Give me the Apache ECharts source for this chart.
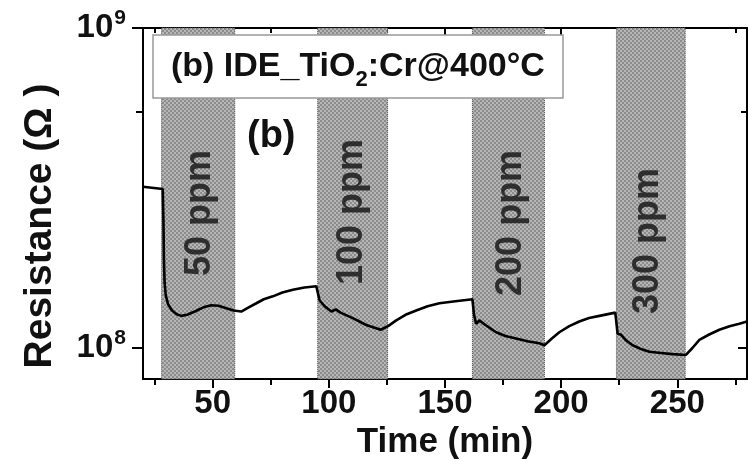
<!DOCTYPE html>
<html>
<head>
<meta charset="utf-8">
<script src="https://cdn.jsdelivr.net/npm/echarts@6/dist/echarts.min.js"></script>
<style>html,body{margin:0;padding:0;background:#fff}#c{width:748px;height:461px}</style>
</head>
<body>
<div id="c"></div>
<script>
// ---- data ----
const timeMin = [20, 28.5, 28.8, 29.0, 29.3, 29.8, 30.8, 32.5, 34.5, 36.5, 39.0, 42.3, 46.0, 49.4, 52.5, 55.9, 59.0, 62.3, 65.5, 68.8, 72.0, 75.9, 80.0, 84.5, 89.5, 94.6, 95.2, 96.0, 98.2, 101.1, 103.0, 105.0, 110.3, 116.1, 122.3, 125.5, 129.0, 133.0, 137.6, 142.5, 147.6, 154.5, 161.8, 162.5, 163.4, 164.8, 167.4, 172.0, 176.0, 180.6, 185.5, 190.6, 192.8, 196.0, 199.2, 203.5, 207.8, 212.0, 216.5, 223.3, 223.8, 224.3, 225.8, 228.0, 230.8, 234.0, 238.0, 243.0, 248.0, 253.7, 256.5, 259.5, 263.5, 268.1, 272.5, 276.7, 280];
const resistance = [3.19e8, 3.14e8, 2.5e8, 1.9e8, 1.6e8, 1.46e8, 1.37e8, 1.31e8, 1.275e8, 1.26e8, 1.27e8, 1.30e8, 1.34e8, 1.36e8, 1.355e8, 1.33e8, 1.31e8, 1.30e8, 1.34e8, 1.38e8, 1.42e8, 1.45e8, 1.49e8, 1.52e8, 1.545e8, 1.56e8, 1.57e8, 1.41e8, 1.35e8, 1.30e8, 1.32e8, 1.29e8, 1.24e8, 1.18e8, 1.14e8, 1.17e8, 1.22e8, 1.27e8, 1.31e8, 1.35e8, 1.38e8, 1.40e8, 1.42e8, 1.27e8, 1.19e8, 1.22e8, 1.18e8, 1.12e8, 1.09e8, 1.07e8, 1.05e8, 1.035e8, 1.02e8, 1.07e8, 1.12e8, 1.17e8, 1.21e8, 1.24e8, 1.26e8, 1.29e8, 1.30e8, 1.11e8, 1.10e8, 1.055e8, 1.02e8, 0.995e8, 0.973e8, 0.965e8, 0.957e8, 0.951e8, 1.0e8, 1.06e8, 1.10e8, 1.14e8, 1.17e8, 1.19e8, 1.21e8];
const bandStart = [28, 95.2, 161.8, 223.8];
const bandEnd = [59.5, 125.3, 192.8, 253.4];
const bandLabels = ['50 ppm', '100 ppm', '200 ppm', '300 ppm'];
const bandLabelTime = [44.4, 110.2, 178.6, 237.5];
const bandLabelR = [2.64e8, 2.66e8, 2.46e8, 2.16e8];
const xMajorTicks = [50, 100, 150, 200, 250];
const xMinorTicks = [25, 75, 125, 175, 225, 275];
const yMajorTicks = [1e8, 1e9];
const yMinorTicks = [5.46e8];

const FONT = '"Liberation Sans", Arial, sans-serif';

// checker pattern for the gas-exposure bands
const pc = document.createElement('canvas');
pc.width = 4; pc.height = 4;
const pctx = pc.getContext('2d');
pctx.fillStyle = '#b6b6b6'; pctx.fillRect(0, 0, 4, 4);
pctx.fillStyle = '#8c8c8c'; pctx.fillRect(0, 0, 2, 2); pctx.fillRect(2, 2, 2, 2);

const chart = echarts.init(document.getElementById('c'), null, {renderer: 'canvas'});
const lineC = {color: '#000', width: 2};
const xBase = {type: 'value', min: 20, max: 280, splitLine: {show: false}, axisLabel: {show: false}};
const yBase = {type: 'log', logBase: 10, min: 8e7, max: 1e9, splitLine: {show: false}, axisLabel: {show: false}};

chart.setOption({
  animation: false,
  backgroundColor: '#fff',
  grid: {left: 143, right: 1, top: 28, bottom: 82, outerBoundsMode: 'none', containLabel: false},
  title: {
    text: '{a|(b) IDE_TiO}{s|2}{a|:Cr@400°C}',
    left: 153, top: 38,
    padding: [8, 18, 8, 18],
    backgroundColor: '#fff',
    borderColor: '#999',
    borderWidth: 1.5,
    textStyle: {
      rich: {
        a: {fontSize: 34, fontWeight: 'bold', fontFamily: FONT, color: '#111', lineHeight: 41},
        s: {fontSize: 22, fontWeight: 'bold', fontFamily: FONT, color: '#111', lineHeight: 15, padding: [26, 0, 0, 0]}
      }
    },
    z: 10
  },
  graphic: [{
    type: 'text', left: 247, top: 118, z: 10,
    style: {text: '(b)', font: 'bold 38px ' + FONT, fill: '#111'}
  }, {
    type: 'text', x: 40, y: 226, rotation: Math.PI / 2, z: 10,
    style: {text: 'Resistance (Ω )', font: 'bold 39px ' + FONT, fill: '#111', align: 'center', verticalAlign: 'middle'}
  }],
  xAxis: [
    Object.assign({}, xBase, {
      position: 'bottom',
      axisLine: {show: true, lineStyle: lineC},
      axisTick: {show: true, inside: false, length: 9, lineStyle: lineC, customValues: xMajorTicks},
      axisLabel: {show: true, customValues: xMajorTicks, fontSize: 33, fontWeight: 'bold', fontFamily: FONT, color: '#111', margin: 8},
      name: 'Time (min)', nameLocation: 'middle', nameGap: 32,
      nameTextStyle: {fontSize: 35, fontWeight: 'bold', fontFamily: FONT, color: '#111'}
    }),
    Object.assign({}, xBase, {
      position: 'bottom',
      axisLine: {show: false},
      axisTick: {show: true, inside: false, length: 6, lineStyle: lineC, customValues: xMinorTicks}
    }),
    Object.assign({}, xBase, {
      position: 'top',
      axisLine: {show: true, lineStyle: lineC},
      axisTick: {show: true, inside: true, length: 9, lineStyle: lineC, customValues: xMajorTicks}
    }),
    Object.assign({}, xBase, {
      position: 'top',
      axisLine: {show: false},
      axisTick: {show: true, inside: true, length: 5, lineStyle: lineC, customValues: xMinorTicks}
    })
  ],
  yAxis: [
    Object.assign({}, yBase, {
      position: 'left',
      axisLine: {show: true, lineStyle: lineC},
      axisTick: {show: true, inside: false, length: 11, lineStyle: lineC, customValues: yMajorTicks},
      axisLabel: {
        show: true, customValues: yMajorTicks, margin: 17,
        formatter: function (v) { return '{b|10}{s|' + Math.round(Math.log10(v)) + '}'; },
        rich: {
          b: {fontSize: 33, fontWeight: 'bold', fontFamily: FONT, color: '#111'},
          s: {fontSize: 21, fontWeight: 'bold', fontFamily: FONT, color: '#111', padding: [0, 0, 19, 1]}
        }
      }
    }),
    Object.assign({}, yBase, {
      position: 'left',
      axisLine: {show: false},
      axisTick: {show: true, inside: false, length: 7, lineStyle: lineC, customValues: yMinorTicks}
    }),
    Object.assign({}, yBase, {
      position: 'right',
      axisLine: {show: true, lineStyle: lineC},
      axisTick: {show: true, inside: true, length: 9, lineStyle: lineC, customValues: yMajorTicks}
    }),
    Object.assign({}, yBase, {
      position: 'right',
      axisLine: {show: false},
      axisTick: {show: true, inside: true, length: 6, lineStyle: lineC, customValues: yMinorTicks}
    })
  ],
  series: [
    {
      type: 'scatter',
      xAxisIndex: 0, yAxisIndex: 0,
      symbolSize: 0,
      z: 1,
      data: bandLabels.map(function (l, i) { return {value: [bandLabelTime[i], bandLabelR[i]], name: l}; }),
      label: {
        show: true, position: 'inside', rotate: 90,
        formatter: function (p) { return p.name; },
        fontSize: 36, fontWeight: 'bold', fontFamily: FONT, color: '#111'
      },
      markArea: {
        silent: true,
        itemStyle: {color: {image: pc, repeat: 'repeat'}, borderColor: '#555', borderWidth: 1, borderType: 'dotted'},
        data: bandStart.map(function (s, i) { return [{xAxis: s}, {xAxis: bandEnd[i]}]; })
      }
    },
    {
      type: 'line',
      xAxisIndex: 0, yAxisIndex: 0,
      z: 3,
      showSymbol: false,
      symbol: 'none',
      lineStyle: {color: '#000', width: 2.6},
      data: timeMin.map(function (t, i) { return [t, resistance[i]]; })
    }
  ]
});
</script>
</body>
</html>
